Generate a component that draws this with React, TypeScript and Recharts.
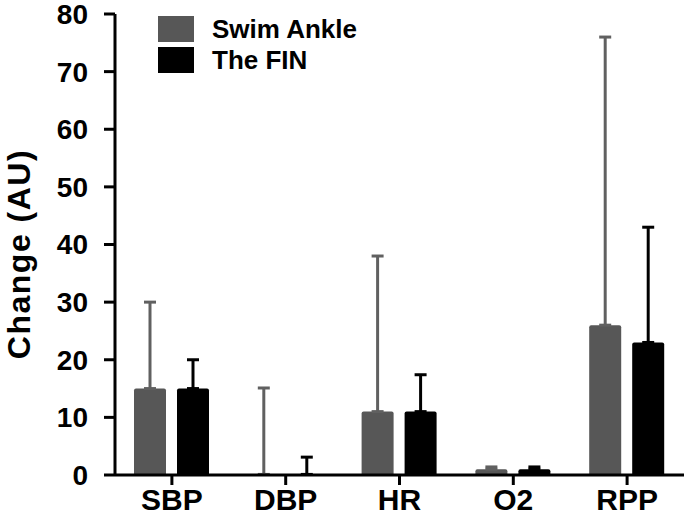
import React from 'react';
import { Bar, BarChart, ErrorBar, XAxis, YAxis } from 'recharts';

const categories = ['SBP', 'DBP', 'HR', 'O2', 'RPP'];
const swimAnkle = [15, 0.1, 11, 1, 26];
const swimAnkleErr = [15, 15, 27, 0.4, 50];
const theFin = [15, 0.1, 11, 1, 23];
const theFinErr = [5, 3, 6.4, 0.4, 20];
const yTicks = [0, 10, 20, 30, 40, 50, 60, 70, 80];

const GRAY = '#575757';
const FONT = '"Liberation Sans", Arial, Helvetica, sans-serif';

const data = categories.map((name, i) => ({
  name,
  swim: swimAnkle[i],
  swimErr: [0, swimAnkleErr[i]],
  fin: theFin[i],
  finErr: [0, theFinErr[i]],
}));

const legendItems = [
  { label: 'Swim Ankle', color: GRAY },
  { label: 'The FIN', color: '#000' },
];

const LegendBox = () => (
  <div
    style={{
      position: 'absolute',
      left: 158,
      top: 13,
      fontFamily: FONT,
      fontWeight: 700,
      fontSize: 26,
    }}
  >
    {legendItems.map((it) => (
      <div key={it.label} style={{ display: 'flex', alignItems: 'center', height: 31 }}>
        <span style={{ display: 'inline-block', width: 36, height: 26, background: it.color, marginRight: 18 }} />
        <span style={{ color: '#000', lineHeight: '26px' }}>{it.label}</span>
      </div>
    ))}
  </div>
);

const YLabel = () => (
  <text
    x={0}
    y={0}
    transform="translate(30, 254) rotate(-90)"
    textAnchor="middle"
    fontFamily={FONT}
    fontWeight={700}
    fontSize={32}
    letterSpacing={1.5}
    fill="#000"
  >
    Change (AU)
  </text>
);

export default function App() {
  return (
    <div style={{ position: 'absolute', left: 0, top: 0, width: 685, height: 519, background: '#fff' }}>
      <BarChart
        width={685}
        height={519}
        data={data}
        margin={{ top: 14, right: 1, bottom: 0, left: 0 }}
        barSize={32}
        barGap={11}
      >
        <YAxis
          domain={[0, 80]}
          ticks={yTicks}
          width={115}
          interval={0}
          axisLine={{ stroke: '#000', strokeWidth: 3 }}
          tickLine={{ stroke: '#000', strokeWidth: 3 }}
          tickSize={11}
          tickMargin={16}
          tick={{ fill: '#000', fontFamily: FONT, fontWeight: 700, fontSize: 28 }}
          label={{ content: () => <YLabel /> }}
        />
        <Bar dataKey="swim" fill={GRAY} radius={[2, 2, 0, 0]} isAnimationActive={false}>
          <ErrorBar dataKey="swimErr" direction="y" width={6} stroke="#606060" strokeWidth={3} isAnimationActive={false} />
        </Bar>
        <Bar dataKey="fin" fill="#000" radius={[2, 2, 0, 0]} isAnimationActive={false}>
          <ErrorBar dataKey="finErr" direction="y" width={6} stroke="#000" strokeWidth={3} isAnimationActive={false} />
        </Bar>
        <XAxis
          dataKey="name"
          height={44}
          axisLine={{ stroke: '#000', strokeWidth: 3 }}
          tickLine={{ stroke: '#000', strokeWidth: 3 }}
          tickSize={10}
          tickMargin={4}
          tick={{ fill: '#000', fontFamily: FONT, fontWeight: 700, fontSize: 30 }}
        />
      </BarChart>
      <LegendBox />
    </div>
  );
}
